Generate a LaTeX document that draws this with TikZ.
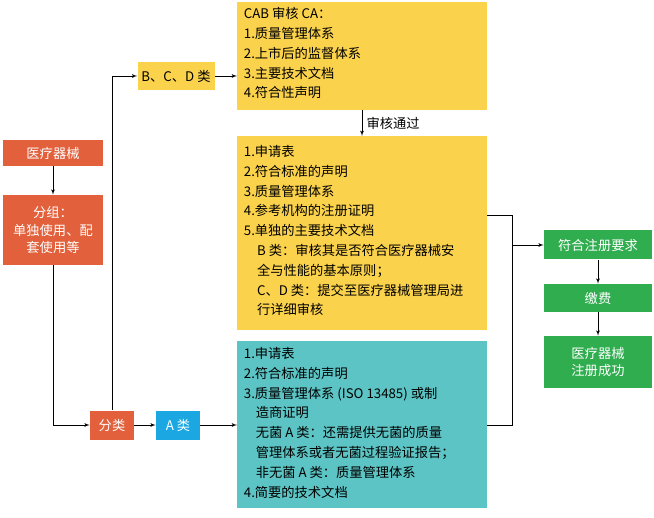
\documentclass[tikz,border=0pt]{standalone}
\usepackage{fontspec}
\setmainfont{Noto Sans CJK SC}
\usetikzlibrary{arrows,positioning}
\definecolor{hong}{HTML}{E2603B}
\definecolor{huang}{HTML}{FBD24C}
\definecolor{qing}{HTML}{5CC4C4}
\definecolor{lv}{HTML}{2FAD4F}
\definecolor{lan}{HTML}{1BA8E2}
\tikzstyle{block} = [rectangle, inner sep=0pt, font=\fontsize{10}{13}\selectfont]
\tikzstyle{textbox} = [rectangle, anchor=north west, align=left, inner xsep=5pt,
    inner ysep=4pt, font=\fontsize{10}{14.9}\selectfont]
\begin{document}
\begin{tikzpicture}[x=0.0265cm,y=-0.0265cm,>=latex']
    \useasboundingbox (0,0) rectangle (654,518);
    \node [block, fill=hong, text=white, minimum width=100*0.0265cm, minimum height=26*0.0265cm] (device) at (53,153) {医疗器械};
    \node [block, fill=hong, text=white, align=center, minimum width=100*0.0265cm, minimum height=70*0.0265cm] (group) at (53,230) {分组：\\单独使用、配\\套使用等};
    \node [block, fill=hong, text=white, minimum width=44*0.0265cm, minimum height=29*0.0265cm] (classify) at (112,425) {分类};
    \node [block, fill=lan, text=white, minimum width=44*0.0265cm, minimum height=29*0.0265cm] (classa) at (178,425) {A 类};
    \node [block, fill=huang, minimum width=77*0.0265cm, minimum height=28*0.0265cm] (classbcd) at (176,76) {B、C、D 类};
    % right side boxes
    \fill [huang] (237,2) rectangle (487,110);
    \node [textbox] (cab) at (237,2) {CAB 审核 CA：\\1.质量管理体系\\2.上市后的监督体系\\3.主要技术文档\\4.符合性声明};
    \coordinate (cabw) at (237,76);
    \coordinate (cabs) at (362,110);
    \fill [huang] (237,136) rectangle (487,330);
    \node [textbox] (bcd) at (237,140) {1.申请表\\2.符合标准的声明\\3.质量管理体系\\4.参考机构的注册证明\\5.单独的主要技术文档\\
        \hspace*{1em}B 类：审核其是否符合医疗器械安\\\hspace*{1em}全与性能的基本原则；\\\hspace*{1em}C、D 类：提交至医疗器械管理局进\\\hspace*{1em}行详细审核};
    \coordinate (bcdn) at (362,136);
    \coordinate (bcde) at (487,215);
    \fill [qing] (237,341) rectangle (487,508);
    \node [textbox] (adoc) at (237,342) {1.申请表\\2.符合标准的声明\\3.质量管理体系 (ISO 13485) 或制\\\hspace*{0.9em}造商证明\\
        \hspace*{0.9em}无菌 A 类：还需提供无菌的质量\\\hspace*{0.9em}管理体系或者无菌过程验证报告；\\\hspace*{0.9em}非无菌 A 类：质量管理体系\\4.简要的技术文档};
    \coordinate (adocw) at (237,425);
    \coordinate (adoce) at (487,425);
    \coordinate (join) at (512,245);
    % results
    \node [block, fill=lv, text=white, minimum width=108*0.0265cm, minimum height=29*0.0265cm] (meet) at (598,245) {符合注册要求};
    \node [block, fill=lv, text=white, minimum width=108*0.0265cm, minimum height=28*0.0265cm] (pay) at (598,298) {缴费};
    \node [block, fill=lv, text=white, align=center, minimum width=108*0.0265cm, minimum height=52*0.0265cm] (done) at (598,362) {医疗器械\\注册成功};
    \draw [->] (device) -- (group);
    \draw [->] (group) |- (classify);
    \draw [->] (classify) |- (classbcd);
    \draw [->] (classify) -- (classa);
    \draw [->] (classa) -- (adocw);
    \draw [->] (classbcd) -- (cabw);
    \draw [->] (cabs) -- node [right, font=\fontsize{10}{12}\selectfont] {审核通过} (bcdn);
    \draw (bcde) -| (join);
    \draw (adoce) -| (join);
    \draw [->] (join) -- (meet);
    \draw [->] (meet) -- (pay);
    \draw [->] (pay) -- (done);
\end{tikzpicture}
\end{document}
